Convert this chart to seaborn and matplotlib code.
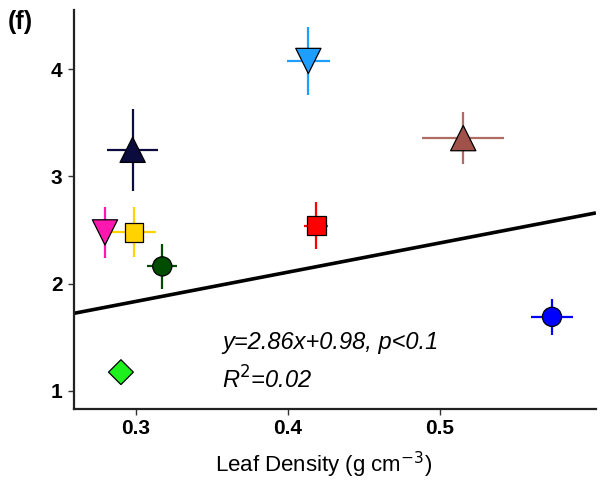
import matplotlib
matplotlib.use("Agg")
import matplotlib.pyplot as plt
import seaborn as sns
import pandas as pd

# ---- data ----
groups = ["navy", "skyblue", "red", "magenta", "gold", "darkgreen", "green", "brown", "blue"]
leaf_density = [0.298, 0.4136, 0.4188, 0.2798, 0.2989, 0.3175, 0.2903, 0.5155, 0.5739]
y_values = [3.248, 4.077, 2.540, 2.477, 2.480, 2.160, 1.173, 3.357, 1.689]
x_err = [0.017, 0.014, 0.008, 0.004, 0.0145, 0.010, 0.0, 0.027, 0.0135]
y_err = [0.38, 0.32, 0.22, 0.235, 0.23, 0.21, 0.0, 0.24, 0.17]
colors = ["#0b0b3d", "#1e9fff", "#ff0000", "#ff18b0", "#ffd200", "#004d00", "#1ef01e", "#a0524a", "#0000ff"]
markers = ["^", "v", "s", "v", "s", "o", "D", "^", "o"]
marker_area = [330, 330, 185, 330, 185, 190, 160, 330, 190]

fit_slope = 2.729
fit_intercept = 1.014
eq_text = "y=2.86x+0.98, p<0.1"
r2_text = "R$^{2}$=0.02"

x_ticks = [0.3, 0.4, 0.5]
y_ticks = [1, 2, 3, 4]
x_limits = (0.2591, 0.6028)
y_limits = (0.829, 4.553)

df = pd.DataFrame({"group": groups, "x": leaf_density, "y": y_values,
                   "xerr": x_err, "yerr": y_err})

sns.set_theme(style="white")
plt.rcParams["font.family"] = ["Liberation Sans", "DejaVu Sans"]
plt.rcParams["text.color"] = "black"
plt.rcParams["axes.labelcolor"] = "black"
plt.rcParams["xtick.color"] = "black"
plt.rcParams["ytick.color"] = "black"

fig = plt.figure(figsize=(6.05, 4.98), dpi=100)
ax = fig.add_axes([0.1215, 0.1787, 0.985 - 0.1215, 0.98 - 0.1787])

# error bars
for i, row in df.iterrows():
    ax.errorbar(row["x"], row["y"], xerr=row["xerr"] if row["xerr"] > 0 else None,
                yerr=row["yerr"] if row["yerr"] > 0 else None,
                fmt="none", ecolor=colors[i], elinewidth=1.6, capsize=0, zorder=2,
                alpha=0.85 if groups[i] == "brown" else 1.0)

# regression line
xs = [x_limits[0], x_limits[1]]
ax.plot(xs, [fit_slope * v + fit_intercept for v in xs], color="black", lw=2.6, zorder=1,
        solid_capstyle="butt")

# points
sns.scatterplot(data=df, x="x", y="y", hue="group", style="group", size="group",
                palette=dict(zip(groups, colors)),
                markers=dict(zip(groups, markers)),
                sizes=dict(zip(groups, marker_area)),
                edgecolor="black", linewidth=0.9, legend=False, ax=ax, zorder=3)

ax.set_xlim(*x_limits)
ax.set_ylim(*y_limits)
ax.set_xticks(x_ticks)
ax.set_yticks(y_ticks)
ax.set_xticklabels([f"{t:.1f}" for t in x_ticks], fontweight="bold", fontsize=15)
ax.set_yticklabels([str(t) for t in y_ticks], fontweight="bold", fontsize=15)
ax.tick_params(axis="both", which="both", length=4, width=1.0, color="#333333",
               bottom=True, left=True)
ax.tick_params(axis="x", pad=3)
ax.tick_params(axis="y", pad=4)

for side in ["top", "right"]:
    ax.spines[side].set_visible(False)
for side in ["left", "bottom"]:
    ax.spines[side].set_color("#222222")
    ax.spines[side].set_linewidth(1.6)

ax.set_xlabel("Leaf Density (g cm$^{-3}$)", fontsize=16)
ax.xaxis.set_label_coords(0.478, -0.14)
ax.xaxis.label.set_va("center")
ax.set_ylabel("")

ax.text(0.3568, 1.454, eq_text, fontsize=17, style="italic", ha="left", va="center")
ax.text(0.3568, 1.10, r2_text, fontsize=17, style="italic", ha="left", va="center")

fig.text(0.013, 0.955, "(f)", fontsize=18, fontweight="bold", ha="left", va="center")

fig.savefig("out.png", dpi=100)
